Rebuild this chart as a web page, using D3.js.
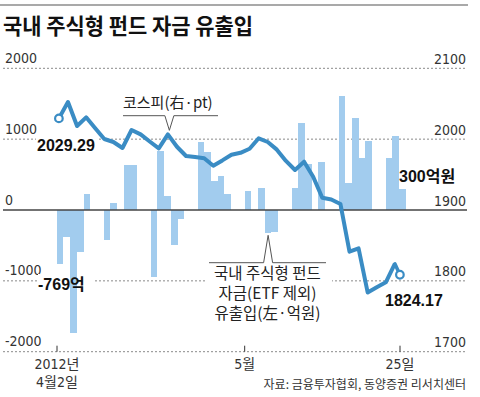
<!DOCTYPE html>
<html>
<head>
<meta charset="utf-8">
<script src="https://cdn.jsdelivr.net/npm/d3@7"></script>
<style>
    body { margin: 0; background: #fff; }
    svg { display: block; }
</style>
</head>
<body>
<div id="chart"></div>
<script>
// ---- data ----
const title = "국내 주식형 펀드 자금 유출입"
const source = "자료: 금융투자협회, 동양증권 리서치센터"

// fund flow (억원), one slot per calendar day from 4/2 to 5/23, 0 = no trading
const flows = [
    -769, -377, -1742, -589, 226, 0, 0,      // 4/2 ~ 4/8
    -424, 95, 0, 636, 636, 0, 0,             // 4/9 ~ 4/15 (4/11 holiday)
    -950, 838, 198, -494, -122, 0, 0,        // 4/16 ~ 4/22
    953, 823, 410, 475, 222, 0, 0,           // 4/23 ~ 4/29
    264, 0, 306, -329, -308, 0, 0,           // 4/30 ~ 5/6
    306, 1233, 650, 0, 682, 0, 0,            // 5/7 ~ 5/13
    1610, 388, 1295, 739, 970, 0, 0,         // 5/14 ~ 5/20
    730, 1045, 300                           // 5/21 ~ 5/23
]

// KOSPI close (pt), trading days
const kospiDays = ["4/2","4/3","4/4","4/5","4/6","4/9","4/10","4/12","4/13",
    "4/16","4/17","4/18","4/19","4/20","4/23","4/24","4/25","4/26","4/27","4/30",
    "5/2","5/3","5/4","5/7","5/8","5/9","5/10","5/11",
    "5/14","5/15","5/16","5/17","5/18","5/21","5/22","5/23","5/24","5/25"]
const kospi = [2029.29, 2052.4, 2018.5, 2030.8, 2015.4, 2000.2, 1996.0, 1987.5, 2012.9,
    2006.7, 1996.7, 1987.1, 2006.8, 1989.3, 1976.2, 1974.8, 1973.0, 1962.5, 1970.0, 1977.9,
    1980.7, 1986.4, 2001.2, 1996.0, 1985.2, 1969.3, 1956.5, 1968.2,
    1947.0, 1917.2, 1914.8, 1908.5, 1841.1, 1845.9, 1783.6, 1791.0, 1797.9, 1824.17]

const leftTicks = [2000, 1000, 0, -1000, -2000]
const rightTicks = [2100, 2000, 1900, 1800, 1700]
const xTickDates = [new Date(2012, 3, 2), new Date(2012, 4, 1), new Date(2012, 4, 25)]
const xTickLabels = [["2012년", "4월2일"], ["5월"], ["25일"]]

// ---- styles ----
const barColour = "#a2ccee"
const lineColour = "#3a8cc4"
const numFont = "'Liberation Sans Narrow','DejaVu Sans Condensed','Noto Sans CJK KR',sans-serif"
const krFont = "'Noto Sans CJK KR','Noto Sans',sans-serif"
const boldFont = "'Liberation Sans','Noto Sans CJK KR',sans-serif"

const width = 480, height = 397

const svg = d3.select("#chart").append("svg")
    .attr("width", width)
    .attr("height", height)

// scales
const yL = d3.scaleLinear().domain([-2000, 2000]).range([351.7, 68.3])
const yR = d3.scaleLinear().domain([1700, 2100]).range([351.7, 68.3])
const xBar = d3.scaleBand().domain(d3.range(flows.length)).range([56.7, 405.7]).padding(0)
const xK = d3.scalePoint().domain(kospiDays).range([58.9, 394.9])
const xT = d3.scaleTime().domain([xTickDates[0], xTickDates[2]]).range([57, 400])

const gridX0 = 3, gridX1 = 467

// top rule
svg.append("line")
    .attr("x1", 0).attr("x2", 468)
    .attr("y1", 5).attr("y2", 5)
    .attr("stroke", "#555").attr("stroke-width", 1.2)

// title
svg.append("text")
    .attr("x", 3).attr("y", 34)
    .attr("textLength", 250).attr("lengthAdjust", "spacingAndGlyphs")
    .style("font-family", krFont).style("font-size", "22px").style("font-weight", "bold")
    .style("fill", "#111")
    .text(title)

// grid lines
svg.selectAll(".grid")
    .data(leftTicks.filter(d => d !== 0))
    .enter().append("line")
    .attr("x1", gridX0).attr("x2", gridX1)
    .attr("y1", d => yL(d)).attr("y2", d => yL(d))
    .attr("stroke", "#8a8a8a").attr("stroke-width", 1)
    .attr("stroke-dasharray", "2,2")

// axis labels
svg.selectAll(".ly")
    .data(leftTicks)
    .enter().append("text")
    .attr("x", 5).attr("y", d => yL(d) - 5.5)
    .style("font-family", numFont).style("font-size", "14px").style("fill", "#333")
    .text(d => d)

svg.selectAll(".ry")
    .data(rightTicks)
    .enter().append("text")
    .attr("x", 466).attr("y", d => yR(d) - 4.5)
    .attr("text-anchor", "end")
    .style("font-family", numFont).style("font-size", "14px").style("fill", "#333")
    .text(d => d)

// white boxes behind labels that sit on grid lines
function labelBox(x, y, w, h) {
    svg.append("rect").attr("x", x).attr("y", y).attr("width", w).attr("height", h).attr("fill", "#fff")
}
labelBox(36, 134, 62, 20)
labelBox(38, 274, 55, 18)
labelBox(205, 264, 127, 60)

// bars
svg.selectAll(".bar")
    .data(flows)
    .enter().append("rect")
    .attr("x", (d, i) => xBar(i))
    .attr("width", xBar.bandwidth())
    .attr("y", d => yL(Math.max(0, d)))
    .attr("height", d => Math.abs(yL(d) - yL(0)))
    .attr("fill", barColour)
    .attr("shape-rendering", "crispEdges")

// zero line
svg.append("line")
    .attr("x1", gridX0).attr("x2", gridX1)
    .attr("y1", yL(0)).attr("y2", yL(0))
    .attr("stroke", "#444").attr("stroke-width", 1.5)

// x ticks
svg.selectAll(".xt")
    .data(xTickDates)
    .enter().append("line")
    .attr("x1", d => xT(d)).attr("x2", d => xT(d))
    .attr("y1", yL(-2000) - 6).attr("y2", yL(-2000))
    .attr("stroke", "#333").attr("stroke-width", 1)

xTickDates.forEach((d, i) => {
    const t = svg.append("text")
        .attr("x", xT(d)).attr("y", 369)
        .attr("text-anchor", "middle")
        .style("font-family", numFont).style("font-size", "14px").style("fill", "#333")
    xTickLabels[i].forEach((s, j) => {
        t.append("tspan").attr("x", xT(d)).attr("dy", j === 0 ? 0 : 18).text(s)
    })
})

// KOSPI line
const line = d3.line()
    .x((d, i) => xK(kospiDays[i]))
    .y(d => yR(d))

svg.append("path")
    .datum(kospi)
    .attr("d", line)
    .attr("fill", "none")
    .attr("stroke", lineColour)
    .attr("stroke-width", 4)
    .attr("stroke-linejoin", "round")

// end markers
const last = kospi.length - 1
const endPt = [xK(kospiDays[last]), yR(kospi[last])]
const endMark = [endPt[0] + 5, endPt[1] + 11]
svg.append("line")
    .attr("x1", endPt[0]).attr("y1", endPt[1])
    .attr("x2", endMark[0]).attr("y2", endMark[1])
    .attr("stroke", lineColour).attr("stroke-width", 3.5).attr("stroke-linecap", "round")

svg.selectAll(".mark")
    .data([[xK(kospiDays[0]), yR(kospi[0])], endMark])
    .enter().append("circle")
    .attr("cx", d => d[0]).attr("cy", d => d[1])
    .attr("r", 3.8)
    .attr("fill", "#fff")
    .attr("stroke", lineColour).attr("stroke-width", 2.2)

// callout pointers
function callout(x0, x1, y, ax, ay) {
    const p = d3.path()
    p.moveTo(x0, y)
    p.lineTo(ax - 4.5, y)
    p.lineTo(ax, ay)
    p.lineTo(ax + 4.5, y)
    p.lineTo(x1, y)
    svg.append("path").attr("d", p.toString())
        .attr("fill", "none").attr("stroke", "#555").attr("stroke-width", 1)
}

// KOSPI callout, pointing at the April peak
const peakI = 12
callout(123, 218, 115.7, xK(kospiDays[peakI]) + 1.5, yR(kospi[peakI]) - 4)
svg.append("text")
    .attr("x", 123).attr("y", 108)
    .style("font-family", krFont).style("font-size", "15px").style("fill", "#222")
    .text("코스피(右·pt)")

// fund flow callout, pointing at the 5/3 bar
const flowI = 31
callout(209, 326, 262.7, xBar(flowI) + xBar.bandwidth() / 2, yL(flows[flowI]) + 2)
const fl = svg.append("text")
    .attr("text-anchor", "middle")
    .style("font-family", krFont).style("font-size", "15.5px").style("fill", "#222")
;["국내 주식형 펀드", "자금(ETF 제외)", "유출입(左·억원)"].forEach((s, j) => {
    fl.append("tspan").attr("x", 267.5).attr("y", 279 + j * 20).text(s)
})

// value labels
function valueLabel(x, y, s, anchor) {
    svg.append("text")
        .attr("x", x).attr("y", y)
        .attr("text-anchor", anchor || "start")
        .style("font-family", boldFont).style("font-size", "16px").style("font-weight", "bold")
        .style("fill", "#111")
        .text(s)
}
valueLabel(37, 151, "2029.29")
valueLabel(38, 290, "-769억")
valueLabel(399, 182, "300억원")
valueLabel(385, 306, "1824.17")

// source
svg.append("text")
    .attr("x", 466).attr("y", 389)
    .attr("text-anchor", "end")
    .style("font-family", krFont).style("font-size", "12px").style("fill", "#333")
    .text(source)
</script>
</body>
</html>
